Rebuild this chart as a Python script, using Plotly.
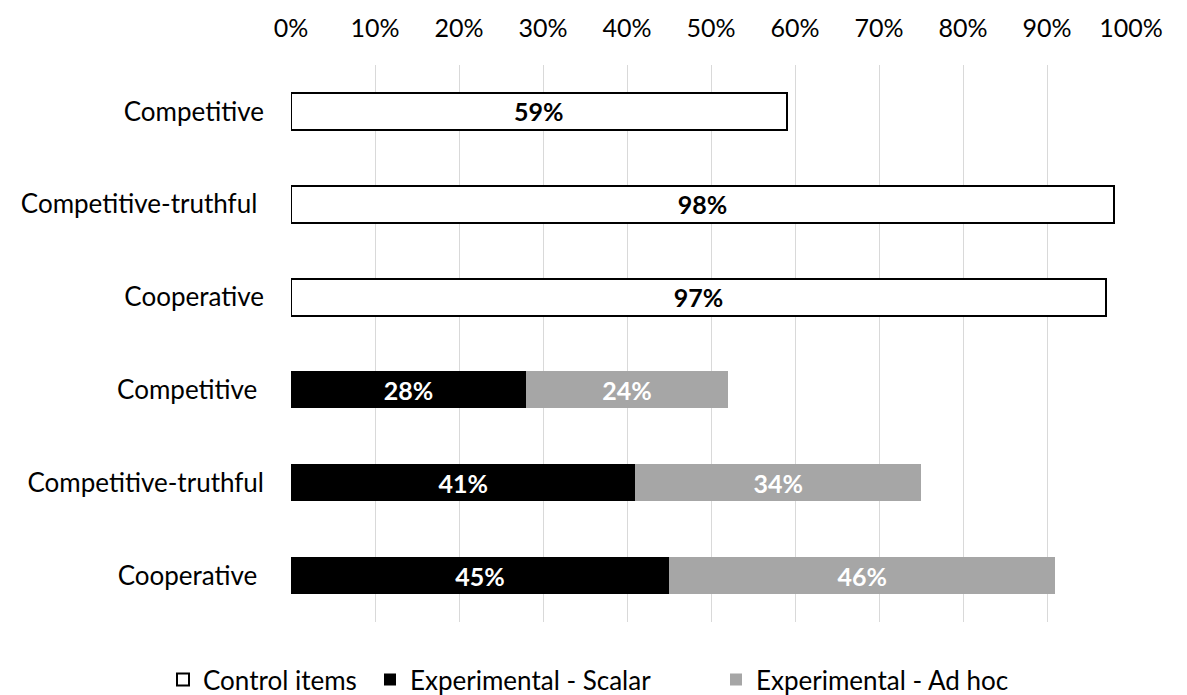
import plotly.graph_objects as go

# Row labels, top to bottom (trailing spaces keep the repeated names distinct)
categories = [
    "Competitive",
    "Competitive-truthful ",
    "Cooperative",
    "Competitive ",
    "Competitive-truthful",
    "Cooperative ",
]

# Percent of responses per condition
control_items = [59, 98, 97, None, None, None]
experimental_scalar = [None, None, None, 28, 41, 45]
experimental_adhoc = [None, None, None, 24, 34, 46]

tick_values = [0, 10, 20, 30, 40, 50, 60, 70, 80, 90, 100]
tick_labels = [f"{v}%" for v in tick_values]

FONT = "Lato"
CAT_FS = 26
TICK_FS = 25
BAR_FS = 25
LEG_FS = 26
W, H = 1187, 695


def frac(vals):
    return [None if v is None else v / 100 for v in vals]


def labels(vals):
    return [None if v is None else f"<b>{v}%</b>" for v in vals]


fig = go.Figure()

fig.add_trace(go.Bar(
    name="Control items", legend="legend", showlegend=True,
    y=categories, x=frac(control_items), orientation="h",
    marker=dict(color="white", line=dict(color="black", width=2)),
    text=labels(control_items), textposition="inside",
    insidetextanchor="middle", textangle=0,
    textfont=dict(family=FONT, size=BAR_FS, color="black"),
))
fig.add_trace(go.Bar(
    name="Experimental - Scalar", legend="legend2", showlegend=True,
    y=categories, x=frac(experimental_scalar), orientation="h",
    marker=dict(color="black", line=dict(color="black", width=0)),
    text=labels(experimental_scalar), textposition="inside",
    insidetextanchor="middle", textangle=0,
    textfont=dict(family=FONT, size=BAR_FS, color="white"),
))
fig.add_trace(go.Bar(
    name="Experimental - Ad hoc", legend="legend3", showlegend=True,
    y=categories, x=frac(experimental_adhoc), orientation="h",
    marker=dict(color="#a6a6a6", line=dict(color="#a6a6a6", width=0)),
    text=labels(experimental_adhoc), textposition="inside",
    insidetextanchor="middle", textangle=0,
    textfont=dict(family=FONT, size=BAR_FS, color="white"),
))


def legend_at(left_px):
    # one legend box per series, placed along the bottom edge
    return dict(
        orientation="h", xref="container", yref="container",
        x=left_px / W, xanchor="left", y=0.022, yanchor="middle",
        font=dict(family=FONT, size=LEG_FS, color="black"),
        bgcolor="rgba(0,0,0,0)", itemwidth=30, visible=True,
    )


fig.update_layout(
    width=W, height=H, showlegend=True,
    barmode="stack", bargap=0.6,
    plot_bgcolor="white", paper_bgcolor="white",
    font=dict(family=FONT, size=CAT_FS, color="black"),
    margin=dict(l=291, r=56, t=62, b=73),
    legend=legend_at(163),
    legend2=legend_at(370),
    legend3=legend_at(716),
    xaxis=dict(
        side="top", range=[0, 1],
        tickvals=[v / 100 for v in tick_values], ticktext=tick_labels,
        showgrid=True, gridcolor="#d9d9d9", gridwidth=1,
        zeroline=False, showline=False, ticks="",
        ticklabelstandoff=22,
        tickfont=dict(family=FONT, size=TICK_FS, color="black"),
    ),
    yaxis=dict(
        type="category", categoryorder="array", categoryarray=categories,
        autorange="reversed", showgrid=False, zeroline=False,
        showline=False, ticks="", ticklabelstandoff=26,
        tickfont=dict(family=FONT, size=CAT_FS, color="black"),
    ),
)

fig.write_html("out.html")
